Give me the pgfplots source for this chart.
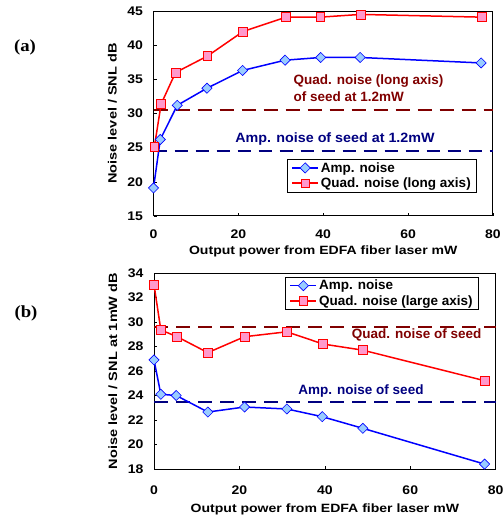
\documentclass[border=0pt]{standalone}
\usepackage{pgfplots}
\pgfplotsset{compat=1.18}
\usepackage{fontspec}
\setmainfont{Liberation Sans}
\newfontfamily\serifbf{Liberation Serif}

\definecolor{darkred}{HTML}{800000}
\definecolor{navy}{HTML}{000080}
\definecolor{ampfill}{HTML}{99CCFF}
\definecolor{quadfill}{HTML}{FF99CC}

\tikzset{note/.style={font=\fontsize{13.5}{17}\selectfont\bfseries}}

\pgfplotsset{
  panel/.style={
    scale only axis,
    clip=false,
    xmin=0, xmax=80,
    xtick={0,20,40,60,80},
    tick align=inside,
    xtick pos=bottom, ytick pos=left,
    major tick length=3pt,
    axis line style={line width=1pt},
    tick style={black, line width=0.6pt},
    /pgf/number format/assume math mode=true,
    tick label style={font=\fontsize{12.5}{14}\selectfont\bfseries, xscale=1.12},
    label style={font=\fontsize{12}{14}\selectfont\bfseries},
    xlabel={Output power from EDFA fiber laser mW},
    legend style={draw=black, line width=0.6pt, font=\fontsize{13.5}{15}\selectfont\bfseries,
      row sep=0pt, inner xsep=4pt, inner ysep=1pt,
      nodes={inner sep=2pt}},
    legend cell align=left,
    legend image code/.code={%
      \draw[mark repeat=2,mark phase=2] plot coordinates {(0pt,0pt) (13pt,0pt) (26pt,0pt)};},
  },
  amp/.style={blue, line width=1.5pt, mark=square*, mark size=3.6pt,
    mark options={rotate=45, fill=ampfill, draw=blue, line width=0.6pt}},
  quad/.style={red, line width=1.5pt, mark=square*, mark size=4.4pt,
    mark options={fill=quadfill, draw=red, line width=0.6pt}},
}

\begin{document}
\begin{tikzpicture}
\useasboundingbox (0pt,0pt) rectangle (503pt,515pt);

\node[font=\serifbf\fontsize{17}{19}\selectfont\bfseries, xscale=1.1] at (25pt,468pt) {(a)};
\node[font=\serifbf\fontsize{17}{19}\selectfont\bfseries, xscale=1.1] at (26pt,202pt) {(b)};

% panel (a)
\begin{axis}[panel,
  at={(153.5pt,299pt)}, anchor=south west,
  width=339.5pt, height=205pt,
  ymin=15, ymax=45, ytick={15,20,...,45},
  xticklabel style={yshift=-10pt},
  yticklabel style={xshift=-6pt},
  ylabel={Noise level / SNL dB},
  ylabel style={at={(axis description cs:-0.1208,0.5)}, anchor=center, xscale=1.21},
  xlabel style={at={(axis description cs:0.5,0)}, anchor=center, yshift=-35pt, xscale=1.17},
  legend style={at={(0.953,0.278)}, anchor=north east},
]
\addplot[forget plot, darkred, line width=2.2pt, dash pattern=on 14pt off 8pt]
  coordinates {(0,30.5) (80,30.5)};
\addplot[forget plot, navy, line width=1.4pt, dash pattern=on 13pt off 8pt]
  coordinates {(0,24.5) (80,24.5)};
\addplot[amp] coordinates {
  (0,19.1) (1.6,26.2) (5.6,31.2) (12.6,33.7) (21,36.3)
  (31,37.8) (39.4,38.2) (48.7,38.2) (77.2,37.4)};
\addlegendentry{Amp. noise}
\addplot[quad] coordinates {
  (0.2,25.1) (1.8,31.4) (5.2,36.0) (12.7,38.4) (21.1,42.0)
  (31.2,44.1) (39.3,44.1) (48.8,44.5) (77.4,44.1)};
\addlegendentry{Quad. noise (long axis)}
\node[note, anchor=west, align=left, text=darkred]
  at (axis cs:32.2,33.65) {Quad. noise (long axis)\\of seed at 1.2mW};
\node[note, anchor=west, text=navy, xscale=1.06]
  at (axis cs:18.4,26.3) {Amp. noise of seed at 1.2mW};
\end{axis}

% panel (b)
\begin{axis}[panel,
  at={(154pt,46pt)}, anchor=south west,
  width=341.7pt, height=196pt,
  ymin=18, ymax=34, ytick={18,20,...,34},
  xticklabel style={yshift=-13pt},
  yticklabel style={xshift=-6pt},
  ylabel={Noise level / SNL at 1mW dB},
  ylabel style={at={(axis description cs:-0.12,0.5)}, anchor=center, xscale=1.21},
  xlabel style={at={(axis description cs:0.5,0)}, anchor=center, yshift=-40pt, xscale=1.17},
  legend style={at={(0.951,0.981)}, anchor=north east},
]
\addplot[forget plot, darkred, line width=1.6pt, dash pattern=on 14pt off 8pt]
  coordinates {(0,29.6) (80,29.6)};
\addplot[forget plot, navy, line width=2.2pt, dash pattern=on 14pt off 8pt]
  coordinates {(0,23.5) (80,23.5)};
\addplot[amp] coordinates {
  (0,26.9) (1.6,24.1) (5.2,24.0) (12.6,22.65) (21.2,23.06)
  (31.1,22.9) (39.4,22.27) (48.9,21.32) (77.4,18.4)};
\addlegendentry{Amp. noise}
\addplot[quad] coordinates {
  (0,33.05) (1.6,29.35) (5.4,28.8) (12.6,27.5) (21.2,28.8)
  (31.1,29.2) (39.6,28.2) (48.9,27.7) (77.5,25.2)};
\addlegendentry{Quad. noise (large axis)}
\node[note, anchor=east, text=darkred]
  at (axis cs:77.5,28.94) {Quad. noise of seed};
\node[note, anchor=west, text=navy]
  at (axis cs:33,24.4) {Amp. noise of seed};
\end{axis}
\end{tikzpicture}
\end{document}
